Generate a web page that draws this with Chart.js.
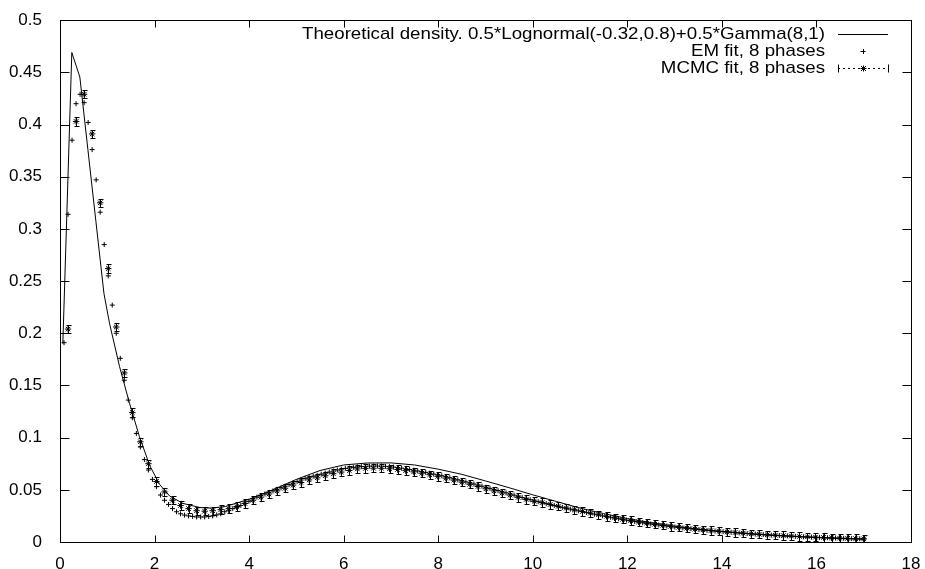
<!DOCTYPE html>
<html><head><meta charset="utf-8">
<script src="https://cdn.jsdelivr.net/npm/chart.js@4/dist/chart.umd.min.js"></script>
<style>html,body{margin:0;padding:0;background:#fff}#wrap{width:925px;height:569px}</style>
</head><body><div id="wrap"><canvas id="c" width="925" height="569"></canvas></div>
<script>
// ---- data ----
const seriesNames = [
  'Theoretical density. 0.5*Lognormal(-0.32,0.8)+0.5*Gamma(8,1)',
  'EM fit, 8 phases',
  'MCMC fit, 8 phases'
];
const xTickLabels = ['0','2','4','6','8','10','12','14','16','18'];
const yTickLabels = ['0','0.05','0.1','0.15','0.2','0.25','0.3','0.35','0.4','0.45','0.5'];

const theoX = [0.06,0.25,0.42,0.59,0.76,0.93,1.05,1.26,1.47,1.68,1.90,2.11,2.32,2.60,2.96,3.2,3.5,4.0,4.5,5.0,5.5,6.0,6.5,7.0,7.5,8.0,8.5,9.0,9.5,10,10.5,11,11.5,12,12.5,13,13.5,14,14.5,15,15.5,16,16.5,17];
const theoY = [0.19,0.469,0.4455,0.376,0.307,0.238,0.209,0.168,0.133,0.101,0.073,0.055,0.044,0.037,0.033,0.0325,0.034,0.041,0.050,0.060,0.0685,0.0738,0.0757,0.0758,0.0738,0.0698,0.0648,0.0585,0.052,0.0452,0.0388,0.0325,0.0272,0.0225,0.0185,0.0152,0.0124,0.0101,0.0082,0.0066,0.0053,0.0042,0.0033,0.0026];

// EM fit: one point every 0.085 from 0.085 to 17
const emStep = 0.085;
const emY = [
  0.191,0.314,0.385,0.420,0.429,0.421,0.402,0.376,0.347,0.316,0.285,0.255,
  0.227,0.200,0.176,0.155,0.136,0.119,0.104,0.091,0.079,0.069,0.060,0.053,0.045,0.040,0.036,0.032,0.029,0.027,0.0258,0.025,0.0245,0.024,0.024,0.024,0.0245,0.025,0.026,0.027,
  0.029,0.030,0.032,0.033,0.035,0.037,0.039,
  0.0415,0.043,0.0445,0.046,0.0475,0.049,0.0505,0.052,0.0535,0.055,0.0565,0.058,0.0595,0.061,0.062,0.063,0.064,0.065,0.066,0.067,0.068,0.069,0.0698,
  0.0705,0.071,0.0715,0.072,0.0722,0.0725,0.0727,0.0728,0.0728,0.0727,0.0725,0.0722,0.0718,
  0.0713,0.0707,0.0701,0.0695,0.0688,0.0681,0.0674,0.0667,0.0659,0.0651,0.0643,0.0635,
  0.0626,0.0616,0.0606,0.0596,0.0586,0.0576,0.0566,0.0556,0.0545,0.0535,0.0524,0.0514,0.0503,0.0493,0.0482,0.0471,0.0460,0.0449,0.0438,0.0427,0.0416,0.0405,0.0395,
  0.0386,0.0377,0.0368,0.0359,0.0350,0.0341,0.0332,0.0323,0.0315,0.0307,0.0299,0.0291,0.0283,0.0275,0.0267,0.0259,0.0251,0.0244,0.0237,0.0230,0.0223,0.0216,0.0209,
  0.0203,0.0197,0.0191,0.0185,0.0179,0.0173,0.0168,0.0163,0.0158,0.0153,0.0148,0.0143,0.0139,0.0135,0.0131,0.0127,0.0123,0.0119,0.0115,0.0111,0.0108,0.0105,0.0102,0.0099,
  0.0096,0.0093,0.0090,0.0087,0.0084,0.0081,0.0078,0.0076,0.0073,0.0071,0.0068,0.0066,0.0064,0.0062,0.0060,0.0058,0.0056,0.0054,0.0052,0.0050,0.0048,0.0047,0.0045,0.0044,0.0042,0.0041,0.0039,0.0038,0.0037,0.0035,0.0034,0.0033,0.0032,0.0031,0.0030
];

// MCMC fit: one point every 0.17 from 0.17 to 17, with small error bars
const mcmcStep = 0.17;
const mcmcY = [
  0.204,0.403,0.429,0.391,0.325,0.262,0.206,0.162,0.124,0.096,
  0.075,0.058,0.048,0.040,0.035,0.032,0.030,0.0295,0.030,0.031,
  0.032,0.034,0.037,0.040,0.043,0.046,0.049,0.0515,0.0545,
  0.057,0.0595,0.0615,0.0635,0.0655,0.067,
  0.0685,0.070,0.0705,0.0707,0.0706,0.0702,0.0695,0.0684,0.0672,0.0659,0.0645,0.0629,
  0.0612,0.0593,0.0573,0.0553,0.0532,0.051,0.049,0.047,0.045,0.0428,0.0408,0.039,
  0.0378,0.0360,0.0342,0.0325,0.0308,0.0292,0.0276,0.0261,0.0246,0.0232,0.0218,0.0205,0.0193,0.0181,0.0170,0.0160,0.0150,0.0141,0.0133,0.0125,0.0117,0.0110,0.0103,0.0097,0.0091,0.0085,0.0079,0.0074,0.0069,0.0065,0.0061,0.0057,0.0053,0.0049,0.0046,0.0043,0.0040,0.0037,0.0035,0.0032,0.0030
];
const mcmcErr = 0.004;

// ---- build library data ----
const r3 = v => Math.round(v * 1000) / 1000;
const theoData = theoX.map((x, i) => ({x, y: theoY[i]}));
const emData = emY.map((y, i) => ({x: r3((i + 1) * emStep), y}));
const mcmcData = mcmcY.map((y, i) => ({x: r3((i + 1) * mcmcStep), y}));

const FONT = '"Liberation Sans", Arial, Helvetica, sans-serif';
const TXT = 17;

const gnuFrame = {
  id: 'gnuFrame',
  afterDatasetsDraw(chart) {
    const {ctx, scales: {x, y}} = chart;
    ctx.save();
    ctx.strokeStyle = '#000';
    ctx.lineWidth = 1;
    ctx.beginPath();
    mcmcData.forEach(p => {
      const px = Math.round(x.getPixelForValue(p.x)) + 0.5;
      const yt = Math.round(y.getPixelForValue(p.y + mcmcErr)) + 0.5;
      const yb = Math.round(y.getPixelForValue(Math.max(0, p.y - mcmcErr))) + 0.5;
      ctx.moveTo(px, yt); ctx.lineTo(px, yb);
      ctx.moveTo(px - 2, yt); ctx.lineTo(px + 3, yt);
      ctx.moveTo(px - 2, yb); ctx.lineTo(px + 3, yb);
    });
    ctx.stroke();
    ctx.restore();
  },
  afterDraw(chart) {
    const {ctx, chartArea: a, scales: {x, y}} = chart;
    ctx.save();
    ctx.strokeStyle = '#000';
    ctx.lineWidth = 1;
    const L = Math.round(a.left) + 0.5, R = Math.round(a.right) + 0.5;
    const T = Math.round(a.top) + 0.5, B = Math.round(a.bottom) + 0.5;
    ctx.beginPath();
    ctx.moveTo(L, T); ctx.lineTo(R, T); ctx.lineTo(R, B);
    x.ticks.forEach(t => {
      const px = Math.round(x.getPixelForValue(t.value)) + 0.5;
      ctx.moveTo(px, B); ctx.lineTo(px, B - 7);
      ctx.moveTo(px, T); ctx.lineTo(px, T + 7);
    });
    y.ticks.forEach(t => {
      const py = Math.round(y.getPixelForValue(t.value)) + 0.5;
      ctx.moveTo(L, py); ctx.lineTo(L + 9, py);
      ctx.moveTo(R, py); ctx.lineTo(R - 9, py);
    });
    ctx.stroke();

    // key (legend), gnuplot style: text right-justified, sample on the right
    ctx.font = TXT + 'px ' + FONT;
    ctx.fillStyle = '#000';
    ctx.textAlign = 'right';
    ctx.textBaseline = 'middle';
    const textRight = a.right - 86;
    const s0 = a.right - 73, s1 = a.right - 23, sc = (s0 + s1) / 2;
    seriesNames.forEach((name, i) => {
      const ly = a.top + 14 + i * 17;
      ctx.save();
      ctx.translate(textRight, ly);
      ctx.scale(1.1, 1);
      ctx.fillText(name, 0, 0);
      ctx.restore();
      const yy = Math.round(ly) + 0.5;
      ctx.beginPath();
      if (i === 0) {
        ctx.moveTo(s0, yy); ctx.lineTo(s1, yy);
        ctx.stroke();
      } else if (i === 1) {
        ctx.moveTo(sc - 2.5, yy); ctx.lineTo(sc + 2.5, yy);
        ctx.moveTo(Math.round(sc) + 0.5, yy - 2.5); ctx.lineTo(Math.round(sc) + 0.5, yy + 2.5);
        ctx.stroke();
      } else {
        ctx.setLineDash([2, 3]);
        ctx.moveTo(s0, yy); ctx.lineTo(s1, yy);
        ctx.stroke();
        ctx.setLineDash([]);
        ctx.beginPath();
        ctx.moveTo(s0 + 0.5, yy - 4); ctx.lineTo(s0 + 0.5, yy + 4);
        ctx.moveTo(s1 + 0.5, yy - 4); ctx.lineTo(s1 + 0.5, yy + 4);
        const c = Math.round(sc) + 0.5;
        ctx.moveTo(c - 3, yy); ctx.lineTo(c + 3, yy);
        ctx.moveTo(c, yy - 3); ctx.lineTo(c, yy + 3);
        ctx.moveTo(c - 2.5, yy - 2.5); ctx.lineTo(c + 2.5, yy + 2.5);
        ctx.moveTo(c - 2.5, yy + 2.5); ctx.lineTo(c + 2.5, yy - 2.5);
        ctx.stroke();
      }
    });
    ctx.restore();
  }
};

new Chart(document.getElementById('c'), {
  type: 'scatter',
  data: {
    datasets: [
      {label: seriesNames[0], data: theoData, showLine: true, borderColor: '#000', borderWidth: 1,
       pointRadius: 0, tension: 0, fill: false, order: 3},
      {label: seriesNames[1], data: emData, pointStyle: 'cross', pointRadius: 2.5, borderColor: '#000',
       backgroundColor: '#000', borderWidth: 1, order: 2},
      {label: seriesNames[2], data: mcmcData, pointStyle: 'star', pointRadius: 3.2, borderColor: '#000',
       backgroundColor: '#000', borderWidth: 1, order: 1}
    ]
  },
  options: {
    responsive: false,
    animation: false,
    devicePixelRatio: 1,
    layout: {padding: {top: 19, right: 14, left: 0, bottom: 0}},
    plugins: {legend: {display: false}, tooltip: {enabled: false}},
    events: [],
    scales: {
      x: {
        type: 'linear', min: 0, max: 18,
        grid: {display: false},
        border: {display: true, color: '#000', width: 1},
        ticks: {stepSize: 2, color: '#000', font: {family: FONT, size: TXT}, padding: 4,
                maxRotation: 0, autoSkip: false, callback: (v, i) => xTickLabels[i]},
        afterFit: s => { s.height = 27; }
      },
      y: {
        type: 'linear', min: 0, max: 0.5,
        grid: {display: false},
        border: {display: true, color: '#000', width: 1},
        ticks: {stepSize: 0.05, color: '#000', font: {family: FONT, size: TXT}, padding: 10,
                autoSkip: false, callback: (v, i) => yTickLabels[i]},
        afterFit: s => { s.width = 60; }
      }
    }
  },
  plugins: [gnuFrame]
});
</script>
</body></html>
